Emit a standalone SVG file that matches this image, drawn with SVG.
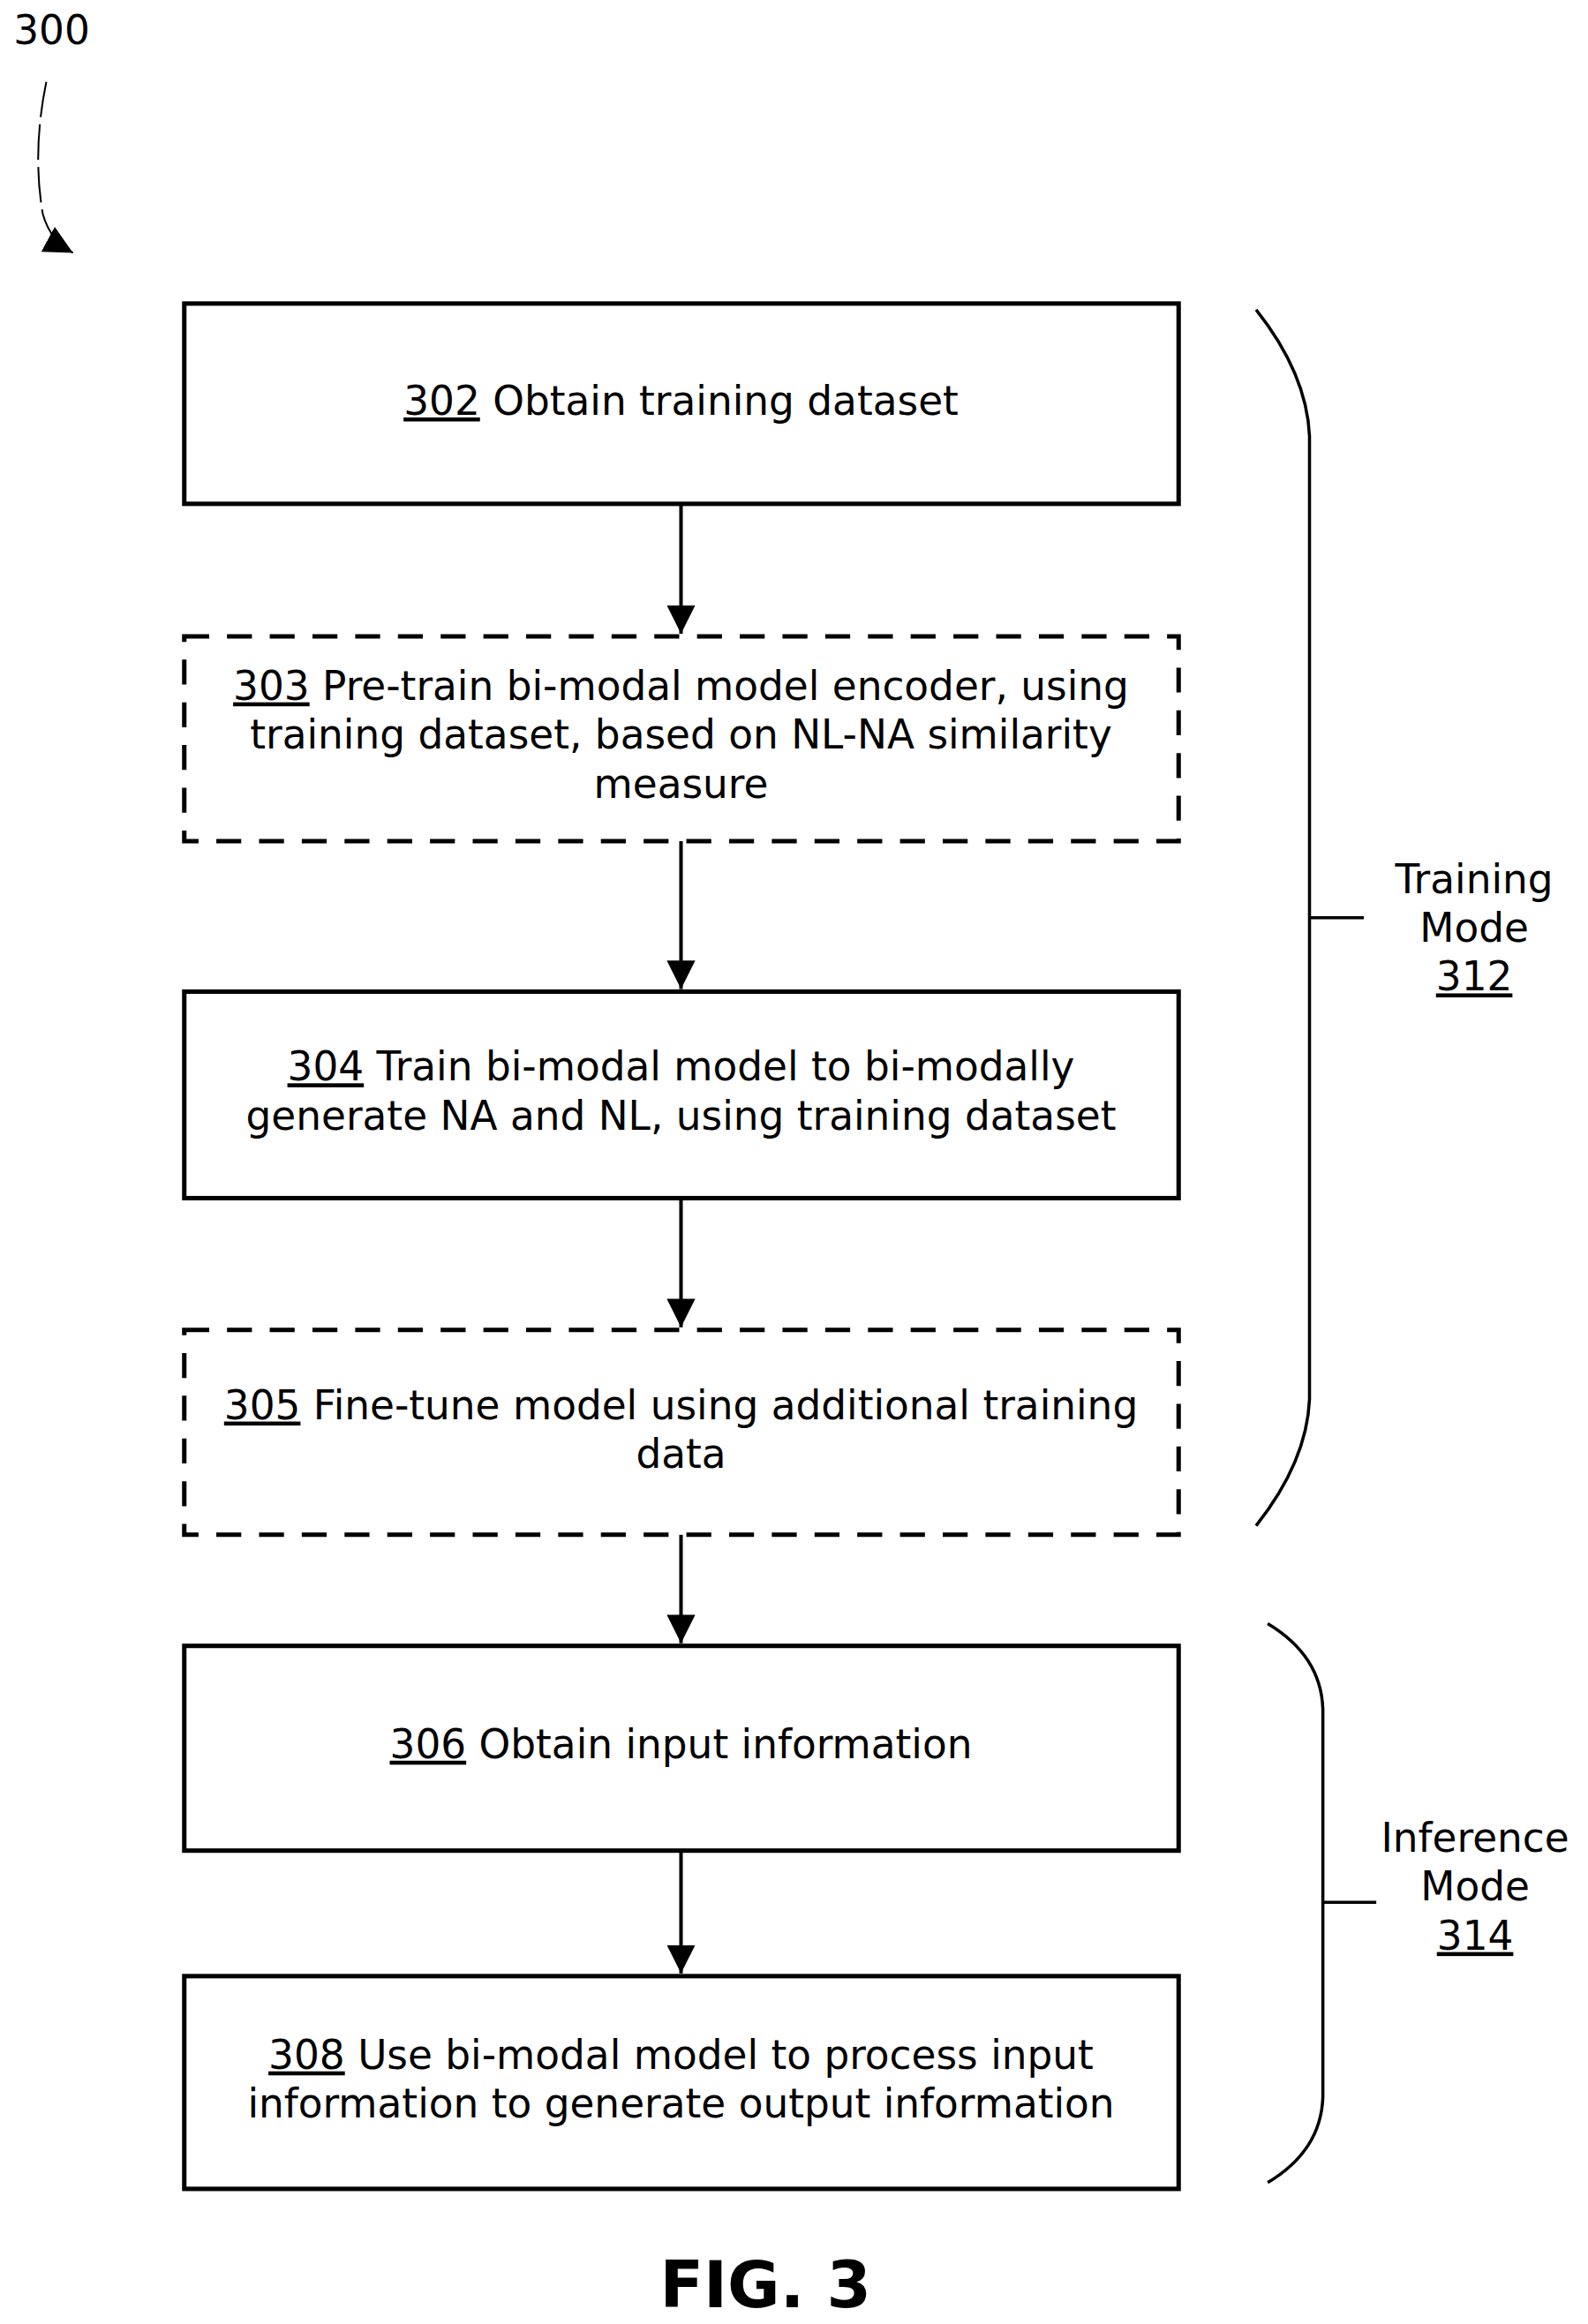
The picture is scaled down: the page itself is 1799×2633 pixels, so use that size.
<svg xmlns="http://www.w3.org/2000/svg" width="1799" height="2633" viewBox="0 0 1799 2633">
<style>
.b{fill:#fff;stroke:#000;stroke-width:5}
.d{fill:#fff;stroke:#000;stroke-width:5;stroke-dasharray:28,20}
.t{font-family:"DejaVu Sans",sans-serif;font-size:45px;text-anchor:middle;fill:#000}
.u{text-decoration:underline}
.c{fill:none;stroke:#000;stroke-width:4}
.br{fill:none;stroke:#000;stroke-width:3.5}
</style>
<defs>
<marker id="h" viewBox="0 0 10 10" refX="10" refY="5" markerWidth="32" markerHeight="32" markerUnits="userSpaceOnUse" orient="auto"><path d="M0,0 L10,5 L0,10 Z"/></marker></defs>
<g transform="scale(1.0085)">
<text x="58" y="50" class="t">300</text>
<path d="M52,92 Q36,170 48,240 Q56,270 82,284" fill="none" stroke="#000" stroke-width="2" stroke-dasharray="40,8" marker-end="url(#h)"/>
<g id="connectors">
<line x1="765" y1="566" x2="765" y2="712" class="c" marker-end="url(#h)"/>
<line x1="765" y1="945" x2="765" y2="1111" class="c" marker-end="url(#h)"/>
<line x1="765" y1="1346" x2="765" y2="1491" class="c" marker-end="url(#h)"/>
<line x1="765" y1="1724" x2="765" y2="1846" class="c" marker-end="url(#h)"/>
<line x1="765" y1="2079" x2="765" y2="2217" class="c" marker-end="url(#h)"/>
</g>
<g id="n302"><rect x="207" y="341" width="1117" height="225" class="b"/><text x="765" y="466" class="t"><tspan class="u">302</tspan> Obtain training dataset</text></g>
<g id="n303"><rect x="207" y="715" width="1117" height="230" class="d"/><text class="t"><tspan x="765" y="786"><tspan class="u">303</tspan> Pre-train bi-modal model encoder, using</tspan><tspan x="765" y="841">training dataset, based on NL-NA similarity</tspan><tspan x="765" y="896">measure</tspan></text></g>
<g id="n304"><rect x="207" y="1114" width="1117" height="232" class="b"/><text class="t"><tspan x="765" y="1214"><tspan class="u">304</tspan> Train bi-modal model to bi-modally</tspan><tspan x="765" y="1269">generate NA and NL, using training dataset</tspan></text></g>
<g id="n305"><rect x="207" y="1494" width="1117" height="230" class="d"/><text class="t"><tspan x="765" y="1594"><tspan class="u">305</tspan> Fine-tune model using additional training</tspan><tspan x="765" y="1649">data</tspan></text></g>
<g id="n306"><rect x="207" y="1849" width="1117" height="230" class="b"/><text x="765" y="1975" class="t"><tspan class="u">306</tspan> Obtain input information</text></g>
<g id="n308"><rect x="207" y="2220" width="1117" height="239" class="b"/><text class="t"><tspan x="765" y="2324"><tspan class="u">308</tspan> Use bi-modal model to process input</tspan><tspan x="765" y="2379">information to generate output information</tspan></text></g>
<g id="training"><path d="M1411,348 Q1468,420 1471,490 L1471,1572 Q1468,1642 1411,1714 M1471,1031 L1532,1031" class="br"/>
<text class="t"><tspan x="1656" y="1003">Training</tspan><tspan x="1656" y="1058">Mode</tspan><tspan x="1656" y="1113" class="u">312</tspan></text></g>
<g id="inference"><path d="M1424,1824 Q1484,1860 1486,1920 L1486,2356 Q1484,2416 1424,2452 M1486,2137 L1546,2137" class="br"/>
<text class="t"><tspan x="1657" y="2080">Inference</tspan><tspan x="1657" y="2135">Mode</tspan><tspan x="1657" y="2190" class="u">314</tspan></text></g>
<text x="860" y="2592" style="font-family:'DejaVu Sans',sans-serif;font-weight:bold;font-size:72px;text-anchor:middle">FIG. 3</text>
</g>
</svg>
